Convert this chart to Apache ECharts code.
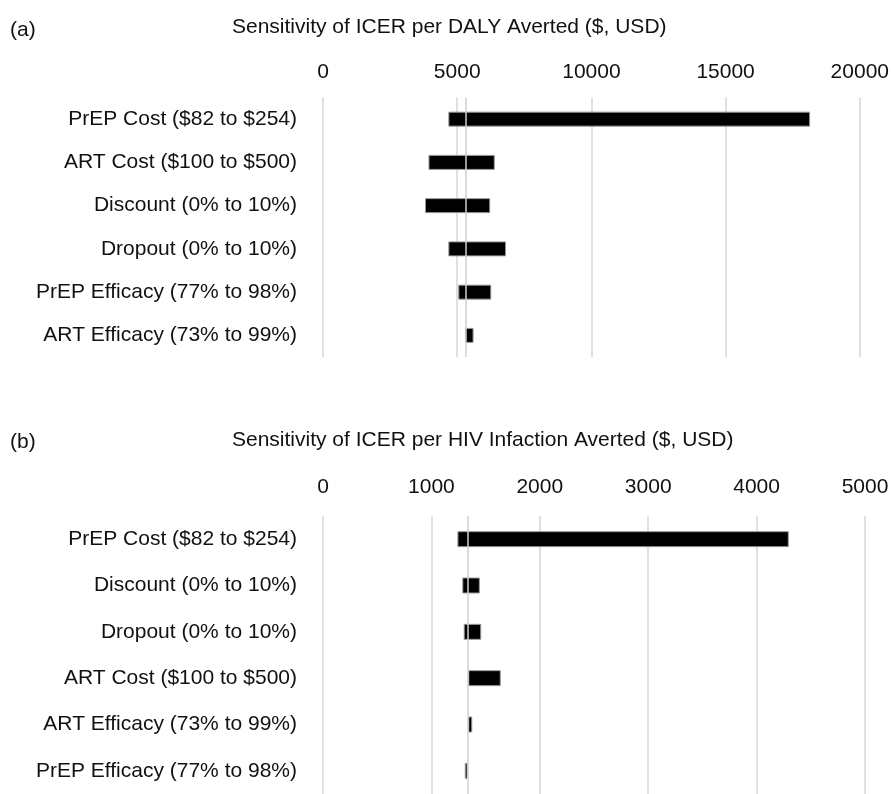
<!DOCTYPE html>
<html>
<head>
<meta charset="utf-8">
<title>ICER sensitivity</title>
<script src="https://cdn.jsdelivr.net/npm/echarts@6/dist/echarts.min.js"></script>
<style>
html, body { margin: 0; padding: 0; background: #fff; }
#main { width: 892px; height: 794px; }
</style>
</head>
<body>
<div id="main"></div>
<script>
// (a) ICER per DALY averted
var catsA = ['PrEP Cost ($82 to $254)', 'ART Cost ($100 to $500)', 'Discount (0% to 10%)',
	'Dropout (0% to 10%)', 'PrEP Efficacy (77% to 98%)', 'ART Efficacy (73% to 99%)'];
var lowA = [4670, 3930, 3800, 4670, 5040, 5290];
var highA = [18150, 6400, 6230, 6820, 6270, 5610];
var baseA = 5310;
var ticksA = [0, 5000, 10000, 15000, 20000];

// (b) ICER per HIV infection averted
var catsB = ['PrEP Cost ($82 to $254)', 'Discount (0% to 10%)', 'Dropout (0% to 10%)',
	'ART Cost ($100 to $500)', 'ART Efficacy (73% to 99%)', 'PrEP Efficacy (77% to 98%)'];
var lowB = [1240, 1285, 1298, 1340, 1340, 1308];
var highB = [4297, 1447, 1460, 1640, 1377, 1334];
var baseB = 1338;
var ticksB = [0, 1000, 2000, 3000, 4000, 5000];

var font = '"Liberation Sans", Arial, Helvetica, sans-serif';
var txt = '#111';

function spans(lo, hi) {
	return hi.map(function (h, i) { return h - lo[i]; });
}

function xAxis(idx, ticks, margin) {
	return {
		type: 'value', gridIndex: idx, position: 'top',
		min: ticks[0], max: ticks[ticks.length - 1], interval: ticks[1] - ticks[0],
		axisLine: { show: false }, axisTick: { show: false },
		axisLabel: {
			fontSize: 21, color: txt, fontFamily: font, margin: margin,
			formatter: function (v) { return String(v); }
		},
		splitLine: { lineStyle: { color: '#d6d6d6', width: 1.5 } }
	};
}

function yAxis(idx, cats) {
	return {
		type: 'category', gridIndex: idx, data: cats, inverse: true,
		axisLine: { show: false }, axisTick: { show: false },
		axisLabel: { fontSize: 21, color: txt, fontFamily: font, margin: 26 },
		splitLine: { show: false }
	};
}

function bars(idx, lo, hi, base, w) {
	return [{
		type: 'bar', xAxisIndex: idx, yAxisIndex: idx, stack: 's' + idx,
		data: lo, barWidth: w, silent: true,
		itemStyle: { color: 'transparent' }
	}, {
		type: 'bar', xAxisIndex: idx, yAxisIndex: idx, stack: 's' + idx,
		data: spans(lo, hi), barWidth: w,
		itemStyle: { color: '#000', borderColor: '#9a9a9a', borderWidth: 1 },
		markLine: {
			silent: true, symbol: 'none', z: 10, label: { show: false },
			lineStyle: { color: '#cfcfcf', width: 1.5, type: 'solid' },
			data: [{ xAxis: base }]
		}
	}];
}

var myChart = echarts.init(document.getElementById('main'));
var option = {
	animation: false,
	textStyle: { fontFamily: font },
	grid: [
		{ left: 323, right: 31, top: 97.5, height: 259.5 },
		{ left: 323, right: 27, top: 516, height: 290 }
	],
	xAxis: [xAxis(0, ticksA, 15), xAxis(1, ticksB, 18)],
	yAxis: [yAxis(0, catsA), yAxis(1, catsB)],
	series: bars(0, lowA, highA, baseA, 15).concat(bars(1, lowB, highB, baseB, 16)),
	graphic: [
		{ type: 'text', left: 10, top: 20, style: { text: '(a)', fontSize: 21, fill: txt, fontFamily: font } },
		{ type: 'text', left: 232, top: 17, style: { text: 'Sensitivity of ICER per DALY Averted ($, USD)', fontSize: 21, fill: txt, fontFamily: font } },
		{ type: 'text', left: 10, top: 432, style: { text: '(b)', fontSize: 21, fill: txt, fontFamily: font } },
		{ type: 'text', left: 232, top: 430, style: { text: 'Sensitivity of ICER per HIV Infaction Averted ($, USD)', fontSize: 21, fill: txt, fontFamily: font } }
	]
};
myChart.setOption(option);
</script>
</body>
</html>
